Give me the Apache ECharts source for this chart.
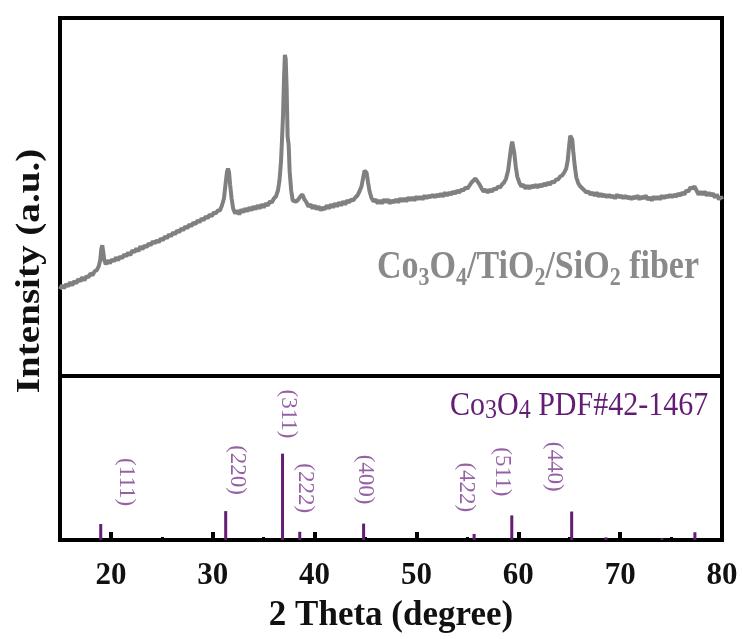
<!DOCTYPE html>
<html>
<head>
<meta charset="utf-8">
<script src="https://cdn.jsdelivr.net/npm/echarts@6/dist/echarts.min.js"></script>
<style>
  html, body { margin: 0; padding: 0; background: #fff; }
  #main { width: 743px; height: 639px; }
</style>
</head>
<body>
<div id="main"></div>
<script>
// measured XRD pattern, [2theta, intensity (a.u.)]
var xrd = [
  [15.0, 87], [15.2, 91], [15.4, 88], [15.6, 92], [15.8, 90], [16.0, 94], [16.2, 91], [16.4, 95],
  [16.6, 93], [16.8, 97], [17.0, 95], [17.2, 99], [17.4, 96], [17.6, 100], [17.8, 99], [18.0, 103],
  [18.2, 101], [18.4, 105], [18.6, 106], [18.8, 110], [18.95, 116], [19.05, 127], [19.15, 131],
  [19.25, 124], [19.35, 116], [19.5, 112], [19.7, 116], [19.9, 113], [20.1, 117], [20.3, 115],
  [20.5, 119], [20.7, 116], [20.9, 120], [21.1, 118], [21.3, 122], [21.5, 120], [21.7, 124],
  [21.9, 121], [22.1, 126], [22.3, 124], [22.5, 128], [22.7, 125], [22.9, 130], [23.1, 127],
  [23.3, 131], [23.5, 129], [23.7, 133], [23.9, 131], [24.1, 135], [24.3, 133], [24.5, 136],
  [24.7, 134], [24.9, 138], [25.1, 136], [25.3, 140], [25.5, 138], [25.7, 142], [25.9, 140],
  [26.1, 144], [26.3, 142], [26.5, 146], [26.7, 144], [26.9, 148], [27.1, 146], [27.3, 150],
  [27.5, 148], [27.7, 152], [27.9, 150], [28.1, 154], [28.3, 152], [28.5, 156], [28.7, 154],
  [28.9, 158], [29.1, 156], [29.3, 160], [29.5, 158], [29.7, 162], [29.9, 160], [30.1, 164],
  [30.3, 163], [30.5, 166], [30.7, 166], [30.9, 171], [31.1, 178], [31.25, 192], [31.4, 205],
  [31.5, 208], [31.6, 204], [31.7, 192], [31.85, 178], [32.0, 168], [32.2, 163], [32.4, 166],
  [32.6, 162], [32.8, 167], [33.0, 164], [33.2, 168], [33.4, 165], [33.6, 169], [33.8, 166],
  [34.0, 170], [34.2, 167], [34.4, 171], [34.6, 168], [34.8, 172], [35.0, 169], [35.2, 173],
  [35.4, 171], [35.6, 175], [35.8, 174], [36.0, 178], [36.2, 180], [36.4, 186], [36.55, 196],
  [36.7, 215], [36.8, 237], [36.9, 262], [37.0, 300], [37.08, 322], [37.16, 318], [37.25, 290],
  [37.35, 240], [37.45, 232], [37.55, 205], [37.7, 186], [37.85, 176], [38.0, 178], [38.2, 175],
  [38.4, 177], [38.6, 180], [38.8, 182], [39.0, 177], [39.2, 174], [39.4, 170], [39.6, 172],
  [39.8, 168], [40.0, 171], [40.2, 167], [40.4, 170], [40.6, 166], [40.8, 169], [41.0, 167],
  [41.2, 171], [41.4, 168], [41.6, 172], [41.8, 169], [42.0, 173], [42.2, 170], [42.4, 174],
  [42.6, 171], [42.8, 175], [43.0, 172], [43.2, 176], [43.4, 174], [43.6, 177], [43.8, 176],
  [44.0, 179], [44.2, 181], [44.4, 185], [44.6, 190], [44.75, 198], [44.9, 206], [45.0, 208],
  [45.1, 204], [45.25, 194], [45.4, 185], [45.6, 178], [45.8, 175], [46.0, 177], [46.2, 173],
  [46.4, 176], [46.6, 173], [46.8, 177], [47.0, 174], [47.2, 177], [47.4, 173], [47.6, 176],
  [47.8, 174], [48.0, 177], [48.2, 174], [48.4, 178], [48.6, 175], [48.8, 178], [49.0, 175],
  [49.2, 179], [49.4, 176], [49.6, 179], [49.8, 176], [50.0, 180], [50.2, 177], [50.4, 180],
  [50.6, 177], [50.8, 181], [51.0, 178], [51.2, 181], [51.4, 179], [51.6, 182], [51.8, 179],
  [52.0, 182], [52.2, 180], [52.4, 183], [52.6, 180], [52.8, 184], [53.0, 181], [53.2, 184],
  [53.4, 182], [53.6, 185], [53.8, 183], [54.0, 186], [54.2, 184], [54.4, 187], [54.6, 186],
  [54.8, 189], [55.0, 188], [55.2, 191], [55.4, 194], [55.6, 196], [55.8, 198], [56.0, 195],
  [56.2, 192], [56.4, 188], [56.6, 185], [56.8, 187], [57.0, 184], [57.2, 187], [57.4, 185],
  [57.6, 188], [57.8, 187], [58.0, 190], [58.2, 189], [58.4, 192], [58.6, 194], [58.8, 198],
  [59.0, 206], [59.15, 218], [59.3, 230], [59.4, 235], [59.5, 233], [59.6, 224], [59.75, 210],
  [59.9, 200], [60.1, 194], [60.3, 190], [60.5, 192], [60.7, 188], [60.9, 191], [61.1, 188],
  [61.3, 191], [61.5, 189], [61.7, 192], [61.9, 189], [62.1, 192], [62.3, 190], [62.5, 193],
  [62.7, 191], [62.9, 194], [63.1, 192], [63.3, 195], [63.5, 194], [63.7, 197], [63.9, 197],
  [64.1, 200], [64.3, 201], [64.5, 204], [64.7, 208], [64.85, 216], [65.0, 232], [65.1, 241],
  [65.2, 242], [65.3, 237], [65.4, 225], [65.55, 210], [65.7, 199], [65.9, 193], [66.1, 190],
  [66.3, 188], [66.5, 186], [66.7, 184], [66.9, 185], [67.1, 182], [67.3, 184], [67.5, 181],
  [67.7, 184], [67.9, 180], [68.1, 183], [68.3, 180], [68.5, 182], [68.7, 179], [68.9, 182],
  [69.1, 179], [69.3, 181], [69.5, 178], [69.7, 182], [69.9, 179], [70.1, 181], [70.3, 178],
  [70.5, 181], [70.7, 178], [70.9, 180], [71.1, 177], [71.3, 180], [71.5, 178], [71.7, 181],
  [71.9, 177], [72.1, 180], [72.3, 178], [72.5, 181], [72.7, 177], [72.9, 179], [73.1, 176],
  [73.3, 180], [73.5, 177], [73.7, 180], [73.9, 177], [74.1, 181], [74.3, 178], [74.5, 181],
  [74.7, 179], [74.9, 182], [75.1, 179], [75.3, 182], [75.5, 180], [75.7, 183], [75.9, 181],
  [76.1, 184], [76.3, 182], [76.5, 186], [76.7, 185], [76.9, 189], [77.1, 188], [77.3, 190],
  [77.5, 186], [77.7, 182], [77.9, 185], [78.1, 182], [78.3, 185], [78.5, 181], [78.7, 184],
  [78.9, 181], [79.1, 183], [79.3, 179], [79.5, 182], [79.7, 177], [79.9, 180], [80.0, 177]
];

// Co3O4 PDF#42-1467 reference lines
var pdfPos = [19.0, 31.27, 36.85, 38.54, 44.81, 55.66, 59.36, 65.24, 68.6, 74.1, 77.34];
var pdfInt = [18.5, 33.5, 100, 9.5, 19, 7, 28.5, 33, 3, 2, 9];

// hkl labels and where they sit (2theta, height)
var hklNames = ['(111)', '(220)', '(311)', '(222)', '(400)', '(422)', '(511)', '(440)'];
var hklX = [21.5, 32.35, 37.35, 39.1, 45.0, 54.9, 58.4, 63.5];
var hklY = [67, 81, 146, 60, 70, 61, 79, 85];

var majorTicks = [20, 30, 40, 50, 60, 70, 80];
var minorTicks = [25, 35, 45, 55, 65, 75];

var serif = 'Liberation Serif';
var purple = '#631d74';

var sticks = pdfPos.map(function (p, i) { return [p, pdfInt[i]]; });
var hkl = hklNames.map(function (n, i) { return { name: n, value: [hklX[i], hklY[i]] }; });

var option = {
    animation: false,
    grid: [
        { left: 60, right: 21, top: 18, height: 358, show: true, borderColor: '#000', borderWidth: 4 },
        { left: 60, right: 21, top: 376, height: 164, show: true, borderColor: '#000', borderWidth: 4 }
    ],
    xAxis: [{
        type: 'value', gridIndex: 0, min: 15, max: 80, show: false
    }, {
        type: 'value', gridIndex: 1, min: 15, max: 80, position: 'bottom',
        axisLine: { show: false },
        splitLine: { show: false },
        axisTick: {
            show: true, inside: true, length: 8, customValues: majorTicks,
            lineStyle: { color: '#000', width: 4 }
        },
        axisLabel: {
            customValues: majorTicks, margin: 20,
            fontFamily: serif, fontSize: 31, fontWeight: 'bold', color: '#111'
        },
        name: '2 Theta (degree)', nameLocation: 'middle', nameGap: 58,
        nameTextStyle: { fontFamily: serif, fontSize: 35, fontWeight: 'bold', color: '#111' }
    }, {
        type: 'value', gridIndex: 1, min: 15, max: 80, position: 'bottom',
        axisLine: { show: false },
        splitLine: { show: false },
        axisLabel: { show: false },
        axisTick: {
            show: true, inside: true, length: 3, customValues: minorTicks,
            lineStyle: { color: '#000', width: 3 }
        }
    }],
    yAxis: [
        { type: 'value', gridIndex: 0, min: 0, max: 359, show: false },
        { type: 'value', gridIndex: 1, min: 0, max: 190, show: false }
    ],
    graphic: [{
        type: 'text', x: 30, y: 271, rotation: Math.PI / 2, scaleX: 1.15,
        style: {
            text: 'Intensity (a.u.)', fill: '#111',
            font: 'bold 34px "Liberation Serif"',
            align: 'center', verticalAlign: 'middle'
        }
    }, {
        type: 'text', x: 377, y: 268, scaleY: 1.15,
        style: {
            text: '{a|Co}{s|3}{a|O}{s|4}{a|/TiO}{s|2}{a|/SiO}{s|2}{a| fiber}',
            verticalAlign: 'middle',
            rich: {
                a: { fontFamily: serif, fontSize: 34, fontWeight: 'bold', fill: '#8a8a8a', lineHeight: 40 },
                s: { fontFamily: serif, fontSize: 22, fontWeight: 'bold', fill: '#8a8a8a', lineHeight: 22, verticalAlign: 'bottom' }
            }
        }
    }, {
        type: 'text', x: 450, y: 406, scaleY: 1.1,
        style: {
            text: '{a|Co}{s|3}{a|O}{s|4}{a| PDF#42-1467}',
            verticalAlign: 'middle',
            rich: {
                a: { fontFamily: serif, fontSize: 30, fill: purple, lineHeight: 34 },
                s: { fontFamily: serif, fontSize: 24, fill: purple, lineHeight: 24, verticalAlign: 'bottom' }
            }
        }
    }],
    series: [{
        type: 'line', xAxisIndex: 0, yAxisIndex: 0,
        data: xrd, showSymbol: false, symbol: 'none',
        lineStyle: { color: '#808080', width: 4 }
    }, {
        type: 'bar', xAxisIndex: 1, yAxisIndex: 1,
        data: sticks, barWidth: 3,
        itemStyle: { color: purple }
    }, {
        type: 'scatter', xAxisIndex: 1, yAxisIndex: 1,
        data: hkl, symbolSize: 0,
        label: {
            show: true, position: 'inside', rotate: -90,
            formatter: '{b}',
            fontFamily: serif, fontSize: 23, color: '#7a3a8c'
        }
    }]
};

var myChart = echarts.init(document.getElementById('main'));
myChart.setOption(option);
</script>
</body>
</html>
